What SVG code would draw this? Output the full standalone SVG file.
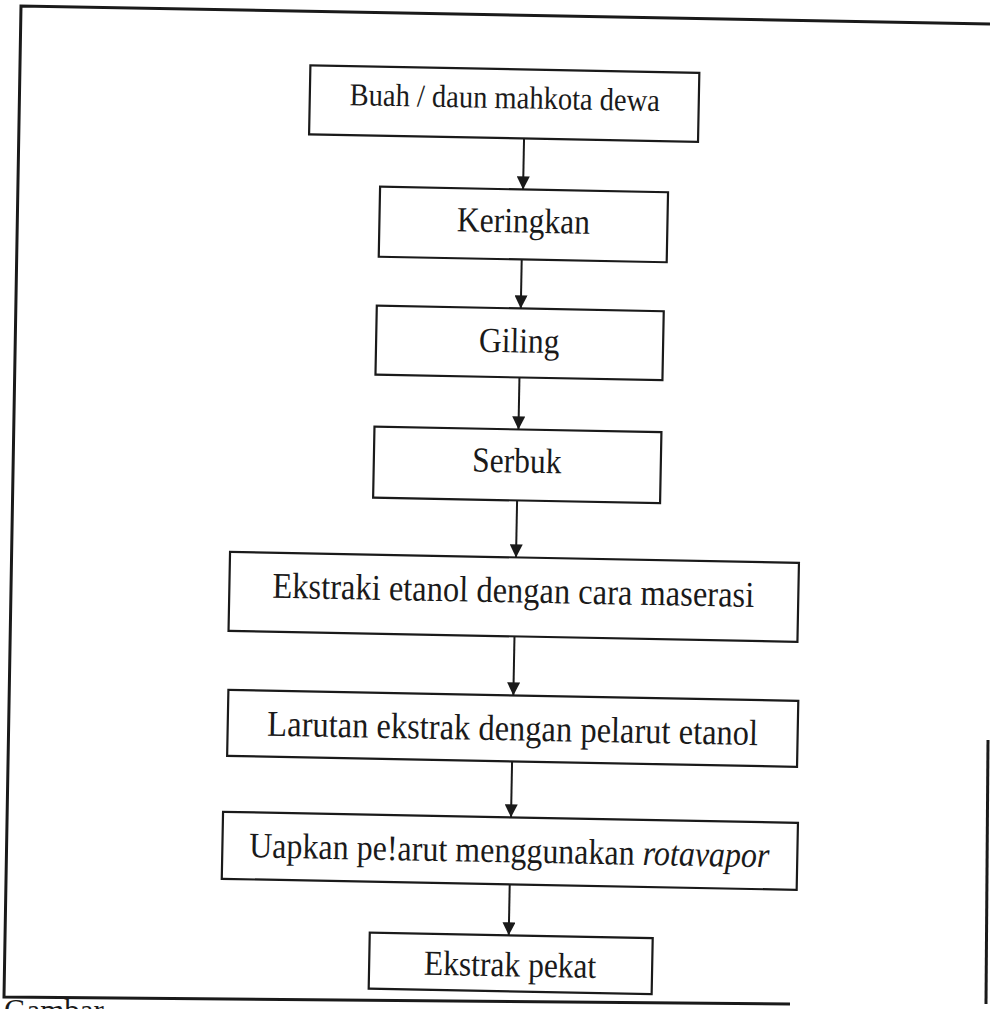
<svg xmlns="http://www.w3.org/2000/svg" width="990" height="1009" viewBox="0 0 990 1009">
<defs>
<marker id="ah" viewBox="0 0 10 10" refX="10" refY="5" markerWidth="14" markerHeight="13" markerUnits="userSpaceOnUse" orient="auto">
<path d="M0,0 L10,5 L0,10 Z" fill="#1a1a1a"/>
</marker>
<style>
.box{fill:#fff;stroke:#1a1a1a;stroke-width:2.2}
.lbl{font-family:"Liberation Serif","Times New Roman",serif;font-size:31.5px;fill:#1a1a1a;text-anchor:middle}
.frame{fill:none;stroke:#1a1a1a;stroke-width:3}
.conn{stroke:#1a1a1a;stroke-width:2;fill:none;marker-end:url(#ah)}
</style>
</defs>
<rect width="990" height="1009" fill="#fff"/>
<g id="frame">
<path class="frame" d="M990,24 L21,6 L4,997 L790,1004"/>
<path class="frame" d="M988,740 L986,1004"/>
</g>
<g transform="rotate(1.1 495 505)">
<g id="connectors">
<line class="conn" x1="517" y1="138" x2="517" y2="189"/>
<line class="conn" x1="517" y1="259" x2="517" y2="308"/>
<line class="conn" x1="517" y1="377" x2="517" y2="429"/>
<line class="conn" x1="517" y1="500" x2="517" y2="557"/>
<line class="conn" x1="517" y1="636" x2="517" y2="695"/>
<line class="conn" x1="517" y1="761" x2="517" y2="817"/>
<line class="conn" x1="517" y1="884" x2="517" y2="935"/>
</g>
<g id="n1"><rect class="box" x="302" y="69" width="389" height="69"/><text class="lbl" transform="translate(497 108) scale(1 1.12)" style="font-size:28.5px">Buah / daun mahkota dewa</text></g>
<g id="n2"><rect class="box" x="374" y="189" width="288" height="70"/><text class="lbl" transform="translate(518 232) scale(1 1.12)">Keringkan</text></g>
<g id="n3"><rect class="box" x="373" y="308" width="287" height="69"/><text class="lbl" transform="translate(516 352) scale(1 1.12)">Giling</text></g>
<g id="n4"><rect class="box" x="373" y="429" width="287" height="71"/><text class="lbl" transform="translate(516 472) scale(1 1.12)">Serbuk</text></g>
<g id="n5"><rect class="box" x="231" y="557" width="569" height="79"/><text class="lbl" transform="translate(515 602) scale(1 1.12)" style="font-size:32.5px">Ekstraki etanol dengan cara maserasi</text></g>
<g id="n6"><rect class="box" x="232" y="695" width="570" height="66"/><text class="lbl" transform="translate(517 740) scale(1 1.12)" style="font-size:32.5px">Larutan ekstrak dengan pelarut etanol</text></g>
<g id="n7"><rect class="box" x="229" y="817" width="575" height="67"/><text class="lbl" transform="translate(516 862) scale(1 1.12)" style="font-size:32px">Uapkan pe!arut menggunakan <tspan font-style="italic">rotavapor</tspan></text></g>
<g id="n8"><rect class="box" x="378" y="935" width="283" height="56"/><text class="lbl" transform="translate(519 976) scale(1 1.12)">Ekstrak pekat</text></g>
</g>
<text x="4" y="1021" style="font-family:'Liberation Serif',serif;font-size:31px;fill:#1a1a1a">Gambar</text>
</svg>
